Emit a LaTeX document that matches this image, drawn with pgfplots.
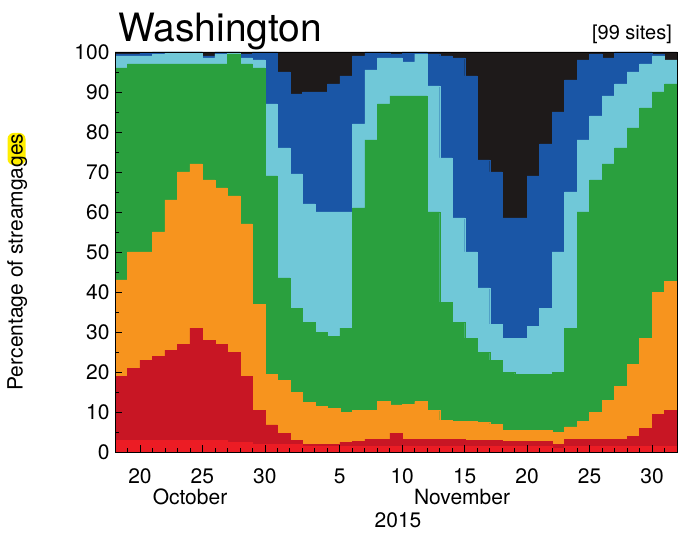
\documentclass[border=0pt]{standalone}
\usepackage{fontspec}
\setmainfont{TeX Gyre Heros}
\usepackage{pgfplots}
\pgfplotsset{compat=1.18}
\usepackage{pgfplotstable}

\definecolor{cbred}{RGB}{236,28,36}
\definecolor{cdred}{RGB}{200,22,36}
\definecolor{corange}{RGB}{247,148,30}
\definecolor{cgreen}{RGB}{42,160,62}
\definecolor{ccyan}{RGB}{112,200,216}
\definecolor{cblue}{RGB}{26,86,166}
\definecolor{cblack}{RGB}{30,26,26}
\definecolor{hl}{RGB}{255,238,0}

% cumulative percentages (top of each class), one row per day
\pgfplotstableread{
x b1 b2 b3 b4 b5 b6 top
18.5 3 19 43 96 99 99.5 100
19.5 3 21 50 97 99 99.5 100
20.5 3 23 50 97 99 99.7 100
21.5 3 24 55 97 99.5 100 100
22.5 3 25.5 63 97 100 100 100
23.5 3 27 70 97 100 100 100
24.5 3 31 72 97 100 100 100
25.5 3 28 68 97 98.5 99 100
26.5 3 27 66 97 99.5 100 100
27.5 2.5 25 64 99.5 100 100 100
28.5 2.5 19 57 97 98.5 99.5 100
29.5 2 10.5 37 96 98 100 100
30.5 2 6.8 19.5 69 87 100 100
31.5 2 4.7 18 43.5 76 95 100
32.5 2 3 15 36 69.5 89.5 100
33.5 1.5 2 12.5 32.5 62 90 100
34.5 1.5 2 11.5 30 60 90 100
35.5 1.5 2 11 29 60 92 100
36.5 1.5 2.5 10 31 60 94 100
37.5 1.5 2.6 10.5 61 82 99 100
38.5 1.5 3.2 10.5 78 95.5 100 100
39.5 1.5 3.2 12.6 87 98.5 100 100
40.5 1.5 4.7 11.8 89 98.5 99.5 100
41.5 1.5 3.2 12 89 97.5 100 100
42.5 1.5 3.2 12.6 89 99.5 100 100
43.5 1.5 3.2 10.5 60 91.5 99.5 100
44.5 1.5 3.2 8 37.5 73.5 99 100
45.5 1.5 3.2 7.6 32.5 58.5 98.5 100
46.5 1.5 3 7.6 28.5 50 94 100
47.5 1.5 3 7.5 25 41 73 100
48.5 1.5 3 7 23 32 70 100
49.5 1.5 2.6 5.5 20 28.5 58.5 100
50.5 1.5 2.6 5.5 19.5 28.5 58.5 100
51.5 1.5 2.6 5.5 19.5 31.5 69 100
52.5 1.5 2.6 5.5 19.5 36 77 100
53.5 1 2 5 20 50 85 100
54.5 1.5 3.2 6.3 31 65 93 100
55.5 1.5 3.2 7.6 60 78 98 100
56.5 1.5 3.2 10 68 84 99.5 100
57.5 1.5 3.2 13 72 89 98.5 100
58.5 1.5 3.2 16.5 76 92 100 100
59.5 1.5 4 22 81 95 100 100
60.5 1.5 6 28.5 86 97 100 100
61.5 1.5 9.5 40 90 99 99.5 100
62.5 1.5 10.5 42.6 92 98 97.5 100
}\data

\begin{document}
\begin{tikzpicture}[x=1pt,y=1pt]
\useasboundingbox (0,0) rectangle (679,533);
\fill[hl, rounded corners=6pt] (7.5,368) rectangle (25.5,400);
\begin{axis}[
  at={(115pt,81pt)}, anchor=south west,
  width=562pt, height=400pt, scale only axis,
  xmin=18, xmax=63, ymin=0, ymax=100,
  ybar, bar width=1, bar shift=0pt,
  axis on top,
  xtick={20,25,30,36,41,46,51,56,61},
  xticklabels={20,25,30,5,10,15,20,25,30},
  minor xtick={18,...,63},
  ytick={0,10,...,100},
  minor ytick={5,15,...,95},
  tick align=inside,
  xtick pos=left, ytick pos=left,
  major tick length=7pt, minor tick length=4pt,
  tick style={black, line width=0.7pt},
  axis line style={black, line width=0.8pt},
  /pgf/number format/assume math mode=true,
  tick label style={font=\fontsize{21}{21}\selectfont},
  yticklabel style={xshift=-2pt},
  xticklabel style={yshift=-13pt},
  ylabel={Percentage of streamgages},
  ylabel style={at={(rel axis cs:-0.174,0.475)}, anchor=center, font=\fontsize{21}{21}\selectfont},
]
\addplot[fill=cblack, draw=cblack, line width=0.3pt] table[x=x, y=top] {\data};
\addplot[fill=cblue, draw=cblue, line width=0.3pt] table[x=x, y=b6] {\data};
\addplot[fill=ccyan, draw=ccyan, line width=0.3pt] table[x=x, y=b5] {\data};
\addplot[fill=cgreen, draw=cgreen, line width=0.3pt] table[x=x, y=b4] {\data};
\addplot[fill=corange, draw=corange, line width=0.3pt] table[x=x, y=b3] {\data};
\addplot[fill=cdred, draw=cdred, line width=0.3pt] table[x=x, y=b2] {\data};
\addplot[fill=cbred, draw=cbred, line width=0.3pt] table[x=x, y=b1] {\data};
\end{axis}
\node[anchor=base west, font=\fontsize{39}{39}\selectfont, inner sep=0pt] at (118,491) {Washington};
\node[anchor=base east, font=\fontsize{20}{20}\selectfont, inner sep=0pt] at (672,493) {[99 sites]};
\node[anchor=base, font=\fontsize{21}{21}\selectfont, inner sep=0pt] at (190,29) {October};
\node[anchor=base, font=\fontsize{21}{21}\selectfont, inner sep=0pt] at (462,29) {November};
\node[anchor=base, font=\fontsize{21}{21}\selectfont, inner sep=0pt] at (398,6) {2015};
\end{tikzpicture}
\end{document}
